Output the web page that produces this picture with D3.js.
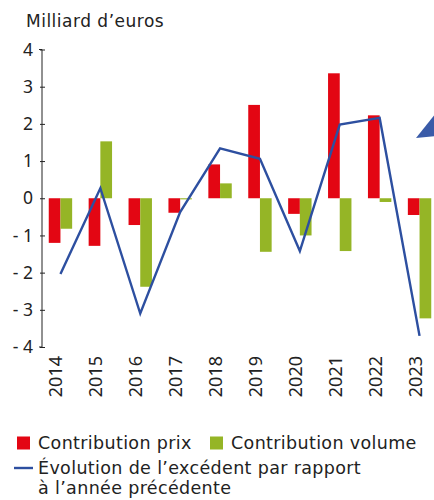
<!DOCTYPE html>
<html><head><meta charset="utf-8">
<script src="https://cdn.jsdelivr.net/npm/d3@7"></script>
<style>
html,body{margin:0;padding:0;background:#fff;}
svg{display:block;font-family:"DejaVu Sans",sans-serif;}
</style></head>
<body>
<svg id="c" width="434" height="500"></svg>
<script>
const years = ["2014","2015","2016","2017","2018","2019","2020","2021","2022","2023"];
const prix = [-1.2, -1.28, -0.72, -0.39, 0.91, 2.51, -0.42, 3.36, 2.23, -0.45];
const volume = [-0.82, 1.53, -2.38, -0.03, 0.4, -1.44, -1.0, -1.42, -0.1, -3.23];
const evolution = [-2.04, 0.27, -3.1, -0.37, 1.34, 1.06, -1.42, 1.98, 2.16, -3.7];
const yTicks = [4, 3, 2, 1, 0, -1, -2, -3, -4];
const yLabels = ["4", "3", "2", "1", "0", "- 1", "- 2", "- 3", "- 4"];
const legendLabels = ["Contribution prix", "Contribution volume", "Évolution de l’excédent par rapport", "à l’année précédente"];

const RED = "#e30613", GREEN = "#95b526", BLUE = "#2d4fa0";
const svg = d3.select("#c");
const x = d3.scaleBand().domain(years).range([40.5, 439.5]).padding(0);
const y = d3.scaleLinear().domain([-4, 4]).range([347, 49.5]);
const bw = 11.7;

svg.append("text").attr("x", 26).attr("y", 27).attr("font-size", 17)
  .attr("letter-spacing", 0.5).attr("fill", "#222").text("Milliard d’euros");

// bars
const cx = d => x(d) + x.bandwidth() / 2;
svg.append("g").selectAll("rect").data(years).join("rect")
  .attr("x", (d) => cx(d) - bw)
  .attr("width", bw)
  .attr("y", (d, i) => y(Math.max(0, prix[i])))
  .attr("height", (d, i) => Math.abs(y(prix[i]) - y(0)))
  .attr("fill", RED);
svg.append("g").selectAll("rect").data(years).join("rect")
  .attr("x", (d) => cx(d))
  .attr("width", bw)
  .attr("y", (d, i) => y(Math.max(0, volume[i])))
  .attr("height", (d, i) => Math.abs(y(volume[i]) - y(0)))
  .attr("fill", GREEN);

// line
const line = d3.line().x((d, i) => cx(years[i])).y(d => y(d));
svg.append("path").datum(evolution).attr("d", line).attr("fill", "none")
  .attr("stroke", BLUE).attr("stroke-width", 2.4).attr("stroke-linejoin", "miter");

// y axis
const yAxis = d3.axisLeft(y).tickValues(yTicks).tickSize(-3).tickPadding(9)
  .tickFormat((d, i) => yLabels[i]);
const ga = svg.append("g").attr("transform", "translate(42,0)").call(yAxis);
ga.select(".domain").attr("d", `M-3,${y(4)}H0V${y(-4)}H-3`).attr("stroke", "#222");
ga.selectAll(".tick line").attr("x1", -2).attr("x2", 3).attr("stroke", "#222");
ga.selectAll(".tick text").attr("font-size", 17.5).attr("fill", "#222").attr("font-family", "Noto Sans");

// x labels
svg.append("g").selectAll("text").data(years).join("text")
  .attr("transform", d => `translate(${cx(d) + 2},356) rotate(-90)`)
  .attr("text-anchor", "end").attr("font-size", 18).attr("fill", "#222")
  .attr("font-family", "Noto Sans")
  .text(d => d);

// decorative triangle (cropped arrow)
svg.append("path").attr("d", "M416,138L436,113L436,136Z").attr("fill", "#3a5ba8");

// legend
const lg = svg.append("g").attr("font-size", 17.5).attr("letter-spacing", 0.35).attr("fill", "#222");
lg.append("rect").attr("x", 17).attr("y", 436.5).attr("width", 13).attr("height", 13).attr("fill", RED);
lg.append("text").attr("x", 38).attr("y", 448.5).text(legendLabels[0]);
lg.append("rect").attr("x", 210).attr("y", 436.5).attr("width", 13).attr("height", 13).attr("fill", GREEN);
lg.append("text").attr("x", 231).attr("y", 448.5).text(legendLabels[1]);
lg.append("line").attr("x1", 14).attr("x2", 33).attr("y1", 468).attr("y2", 468).attr("stroke", BLUE).attr("stroke-width", 2.4);
lg.append("text").attr("x", 38).attr("y", 474).text(legendLabels[2]);
lg.append("text").attr("x", 38).attr("y", 494).text(legendLabels[3]);
</script>
</body></html>
